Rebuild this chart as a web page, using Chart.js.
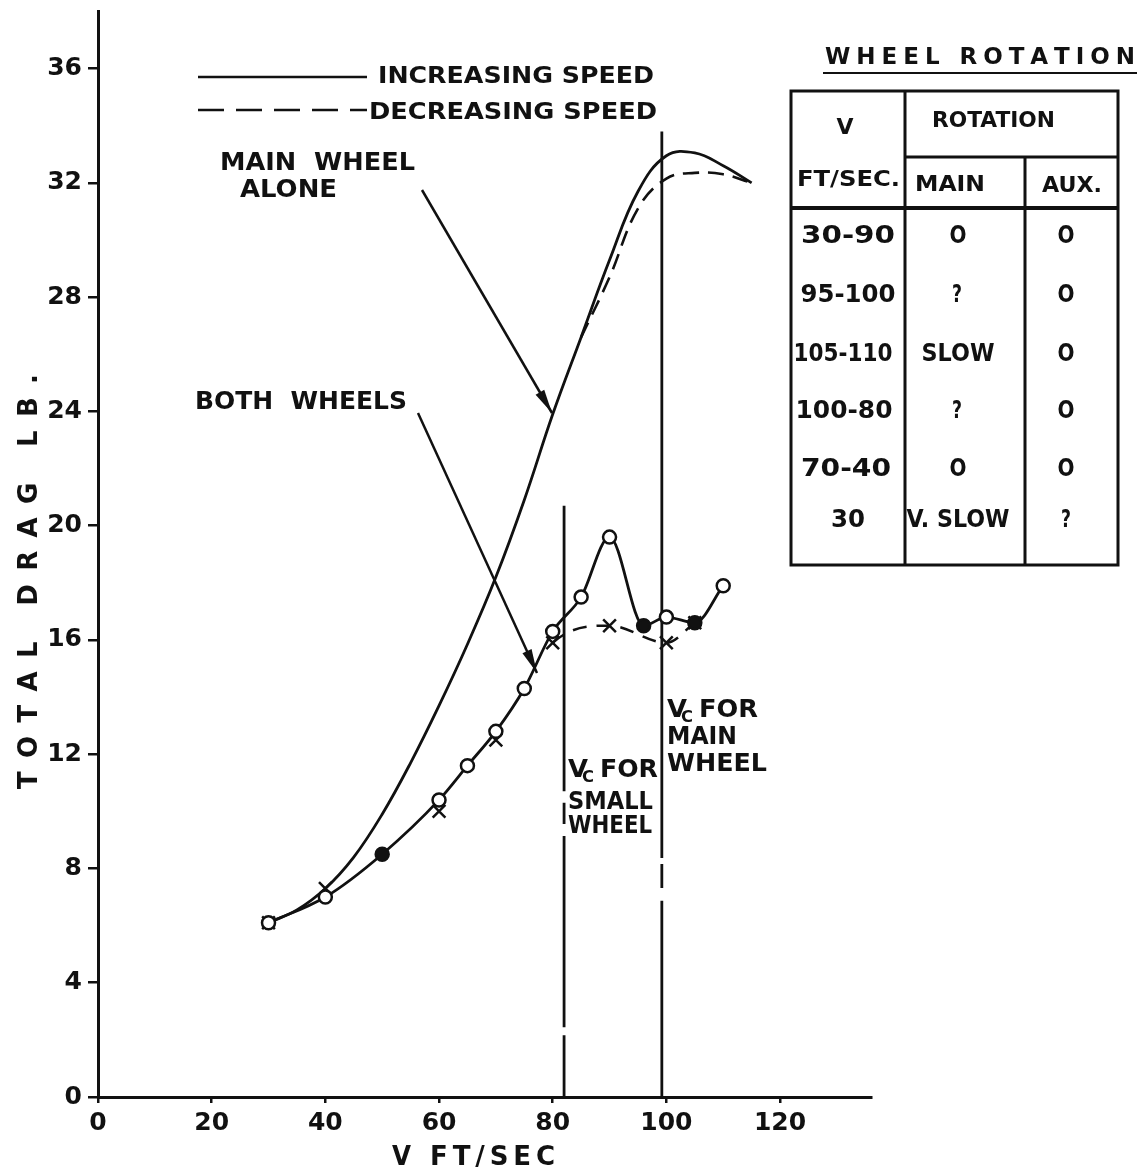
<!DOCTYPE html>
<html>
<head>
<meta charset="utf-8">
<script src="https://cdn.jsdelivr.net/npm/chart.js@4.4.1/dist/chart.umd.min.js"></script>
<style>
  html, body { margin: 0; padding: 0; background: #fff; }
  #wrap { width: 1148px; height: 1175px; position: relative; }
</style>
</head>
<body>
<div id="wrap"><canvas id="dragChart"></canvas></div>
<script>
// V (ft/sec) and total drag (lb)
const mainIncX = [30, 35, 40, 45, 50, 55, 60, 65, 70, 75, 80, 85, 90, 95, 100, 105, 110, 115];
const mainIncY = [6.1, 6.55, 7.3, 8.4, 9.9, 11.7, 13.7, 15.85, 18.2, 20.9, 23.9, 26.6, 29.3, 31.7, 32.95, 33.05, 32.6, 32.0];

const mainDecX = [85, 90, 95, 100, 105, 110, 115];
const mainDecY = [26.6, 28.7, 31.1, 32.15, 32.35, 32.3, 32.0];

const bothIncX = [30, 40, 50, 60, 65, 70, 75, 80, 85, 90, 96, 100, 105, 110];
const bothIncY = [6.1, 7.0, 8.5, 10.4, 11.6, 12.8, 14.3, 16.3, 17.5, 19.6, 16.5, 16.8, 16.6, 17.9];
const bothIncFilled = [false, false, true, false, false, false, false, false, false, false, true, false, true, false];

const bothDecX = [30, 40, 60, 70, 80, 90, 100, 105];
const bothDecY = [6.1, 7.3, 10.0, 12.5, 15.9, 16.5, 15.9, 16.6];

// critical speeds: x, top of line, broken parts
const vcSmall = { x: 82, top: 20.7, gaps: [[2.16, 2.44], [9.14, 9.56], [10.3, 10.7]] };
const vcMain = { x: 99.2, top: 33.8, gaps: [[6.87, 7.32], [8.16, 8.37]] };

const xTicks = [0, 20, 40, 60, 80, 100, 120];
const yTicks = [0, 4, 8, 12, 16, 20, 24, 28, 32, 36];

// wheel rotation table
const tableRows = [
  ["30-90", "O", "O"],
  ["95-100", "?", "O"],
  ["105-110", "SLOW", "O"],
  ["100-80", "?", "O"],
  ["70-40", "O", "O"],
  ["30", "V. SLOW", "?"],
];

const INK = "#111";
const FONT = '"DejaVu Sans"';

const pts = (xs, ys) => xs.map((x, i) => ({ x: x, y: ys[i] }));

function vline(v) {
  const d = [{ x: v.x, y: 0 }];
  v.gaps.forEach((g) => {
    d.push({ x: v.x, y: g[0] }, { x: v.x, y: null }, { x: v.x, y: g[1] });
  });
  d.push({ x: v.x, y: v.top });
  return d;
}

// draws text squeezed / stretched to a given width, left edge x, middle y
function fitText(ctx, text, x, y, w, size) {
  ctx.save();
  ctx.font = `bold ${size}px ${FONT}`;
  ctx.textBaseline = "middle";
  ctx.textAlign = "left";
  const m = ctx.measureText(text).width;
  ctx.translate(x, y);
  ctx.scale(w / m, 1);
  ctx.fillText(text, 0, 0);
  ctx.restore();
}

// letters spread evenly over width w
function spacedText(ctx, text, x, y, w, size) {
  ctx.save();
  ctx.font = `bold ${size}px ${FONT}`;
  ctx.textBaseline = "middle";
  ctx.textAlign = "left";
  const chars = [...text];
  const widths = chars.map((c) => ctx.measureText(c).width);
  const total = widths.reduce((a, b) => a + b, 0);
  const gap = (w - total) / (chars.length - 1);
  let cx = x;
  chars.forEach((c, i) => {
    ctx.fillText(c, cx, y);
    cx += widths[i] + gap;
  });
  ctx.restore();
}

function centerText(ctx, text, cx, y, size, w) {
  fitText(ctx, text, cx - w / 2, y, w, size);
}

function line(ctx, x1, y1, x2, y2, lw, dash) {
  ctx.save();
  ctx.strokeStyle = INK;
  ctx.lineWidth = lw || 2.5;
  ctx.setLineDash(dash || []);
  ctx.beginPath();
  ctx.moveTo(x1, y1);
  ctx.lineTo(x2, y2);
  ctx.stroke();
  ctx.restore();
}

function arrow(ctx, x1, y1, x2, y2) {
  line(ctx, x1, y1, x2, y2, 2.5);
  const a = Math.atan2(y2 - y1, x2 - x1);
  const len = 24, half = 5;
  ctx.save();
  ctx.fillStyle = INK;
  ctx.translate(x2, y2);
  ctx.rotate(a);
  ctx.beginPath();
  ctx.moveTo(0, 0);
  ctx.lineTo(-len, -half);
  ctx.lineTo(-len, half);
  ctx.closePath();
  ctx.fill();
  ctx.restore();
}

function vcLabel(ctx, x, y, right) {
  fitText(ctx, "V", x, y, 20, 25);
  fitText(ctx, "C", x + 14, y + 8, 12, 15);
  fitText(ctx, "FOR", x + 32, y, right - x - 32, 25);
}

const annotations = {
  id: "annotations",
  afterDraw(chart) {
    const ctx = chart.ctx;
    ctx.save();
    ctx.fillStyle = INK;

    // axis titles
    ctx.save();
    ctx.translate(30, 582);
    ctx.rotate(-Math.PI / 2);
    spacedText(ctx, "TOTAL DRAG LB.", -207, 0, 415, 26);
    ctx.restore();
    fitText(ctx, "V", 392, 1158, 19, 26);
    spacedText(ctx, "FT/SEC", 430, 1158, 125, 26);

    // key
    line(ctx, 198, 77, 367, 77, 2.5);
    fitText(ctx, "INCREASING SPEED", 378, 77, 276, 23);
    line(ctx, 198, 110, 367, 110, 2.5, [26, 12]);
    fitText(ctx, "DECREASING SPEED", 369, 113, 288, 23);

    // curve labels and pointers
    fitText(ctx, "MAIN  WHEEL", 220, 164, 195, 24);
    fitText(ctx, "ALONE", 240, 191, 97, 24);
    arrow(ctx, 422, 190, 552, 413);
    fitText(ctx, "BOTH  WHEELS", 195, 403, 212, 24);
    arrow(ctx, 418, 413, 537, 673);

    // critical speed labels
    vcLabel(ctx, 568, 770, 658);
    fitText(ctx, "SMALL", 568, 802, 85, 25);
    fitText(ctx, "WHEEL", 568, 826, 84, 25);
    vcLabel(ctx, 667, 710, 758);
    fitText(ctx, "MAIN", 667, 737, 70, 25);
    fitText(ctx, "WHEEL", 667, 764, 100, 25);

    // table
    spacedText(ctx, "WHEEL ROTATION", 825, 58, 310, 23);
    line(ctx, 823, 73, 1137, 73, 2);
    const L = 791, R = 1118, T = 91, B = 565;
    ctx.save();
    ctx.strokeStyle = INK;
    ctx.lineWidth = 3;
    ctx.strokeRect(L, T, R - L, B - T);
    ctx.restore();
    line(ctx, 905, T, 905, B, 3);
    line(ctx, 905, 157, R, 157, 3);
    line(ctx, 1025, 157, 1025, B, 3);
    line(ctx, L, 208, R, 208, 4);
    centerText(ctx, "V", 845, 128, 22, 17);
    fitText(ctx, "FT/SEC.", 797, 180, 103, 22);
    fitText(ctx, "ROTATION", 932, 121, 123, 22);
    fitText(ctx, "MAIN", 915, 185, 70, 22);
    fitText(ctx, "AUX.", 1042, 186, 60, 22);
    const rowY = [237, 296, 355, 412, 470, 521];
    const col1W = [94, 95, 99, 97, 90, 34];
    const col1X = [848, 848, 843, 844, 846, 848];
    const col2W = { "O": 17, "?": 10, "SLOW": 73, "V. SLOW": 103 };
    const col2X = { "O": 958, "?": 957, "SLOW": 958, "V. SLOW": 958 };
    tableRows.forEach((r, i) => {
      const y = rowY[i];
      centerText(ctx, r[0], col1X[i], y, 24, col1W[i]);
      centerText(ctx, r[1], col2X[r[1]], y, 24, col2W[r[1]]);
      centerText(ctx, r[2], 1066, y, 24, r[2] === "?" ? 10 : 17);
    });

    ctx.restore();
  },
};

const tickFont = { family: "DejaVu Sans", size: 25, weight: "bold" };

new Chart(document.getElementById("dragChart"), {
  type: "scatter",
  data: {
    datasets: [
      {
        label: "Both wheels, increasing speed",
        data: pts(bothIncX, bothIncY),
        showLine: true,
        borderColor: INK,
        borderWidth: 2.8,
        cubicInterpolationMode: "monotone",
        pointStyle: "circle",
        pointRadius: 6.5,
        pointBorderWidth: 2.5,
        pointBorderColor: INK,
        pointBackgroundColor: bothIncFilled.map((f) => (f ? INK : "#fff")),
      },
      {
        label: "Both wheels, decreasing speed",
        data: pts(bothDecX, bothDecY),
        showLine: true,
        borderColor: INK,
        borderWidth: 2.5,
        borderDash: [14, 10],
        cubicInterpolationMode: "monotone",
        segment: {
          borderColor: (c) => (c.p0.parsed.x < 80 ? "rgba(0,0,0,0)" : INK),
        },
        pointStyle: "crossRot",
        pointRadius: 9,
        pointBorderWidth: 2.5,
        pointBorderColor: INK,
      },
      {
        label: "Main wheel alone, increasing speed",
        data: pts(mainIncX, mainIncY),
        showLine: true,
        borderColor: INK,
        borderWidth: 2.8,
        tension: 0.4,
        pointRadius: 0,
      },
      {
        label: "Main wheel alone, decreasing speed",
        data: pts(mainDecX, mainDecY),
        showLine: true,
        borderColor: INK,
        borderWidth: 2.6,
        borderDash: [16, 9],
        tension: 0.4,
        pointRadius: 0,
      },
      {
        label: "Vc small wheel",
        data: vline(vcSmall),
        showLine: true,
        spanGaps: false,
        borderColor: INK,
        borderWidth: 2.8,
        pointRadius: 0,
      },
      {
        label: "Vc main wheel",
        data: vline(vcMain),
        showLine: true,
        spanGaps: false,
        borderColor: INK,
        borderWidth: 2.8,
        pointRadius: 0,
      },
    ],
  },
  options: {
    responsive: true,
    maintainAspectRatio: false,
    animation: false,
    layout: { padding: { top: 8, right: 277, left: 0, bottom: 0 } },
    plugins: {
      legend: { display: false },
      tooltip: { enabled: false },
    },
    scales: {
      x: {
        type: "linear",
        min: 0,
        max: 136,
        afterFit: (s) => { s.height = 78; s.paddingLeft = 0; s.paddingRight = 0; },
        afterBuildTicks: (s) => { s.ticks = xTicks.map((v) => ({ value: v })); },
        ticks: { color: INK, font: tickFont, padding: 5, maxRotation: 0 },
        grid: { drawOnChartArea: false, drawTicks: true, tickLength: 6, color: INK, lineWidth: 2.5 },
        border: { display: true, color: INK, width: 3 },
      },
      y: {
        type: "linear",
        min: 0,
        max: 38,
        afterFit: (s) => { s.width = 98; s.paddingTop = 0; s.paddingBottom = 0; },
        afterBuildTicks: (s) => { s.ticks = yTicks.map((v) => ({ value: v })); },
        ticks: { color: INK, font: tickFont, padding: 6 },
        grid: { drawOnChartArea: false, drawTicks: true, tickLength: 10, color: INK, lineWidth: 2.5 },
        border: { display: true, color: INK, width: 3 },
      },
    },
  },
  plugins: [annotations],
});
</script>
</body>
</html>
